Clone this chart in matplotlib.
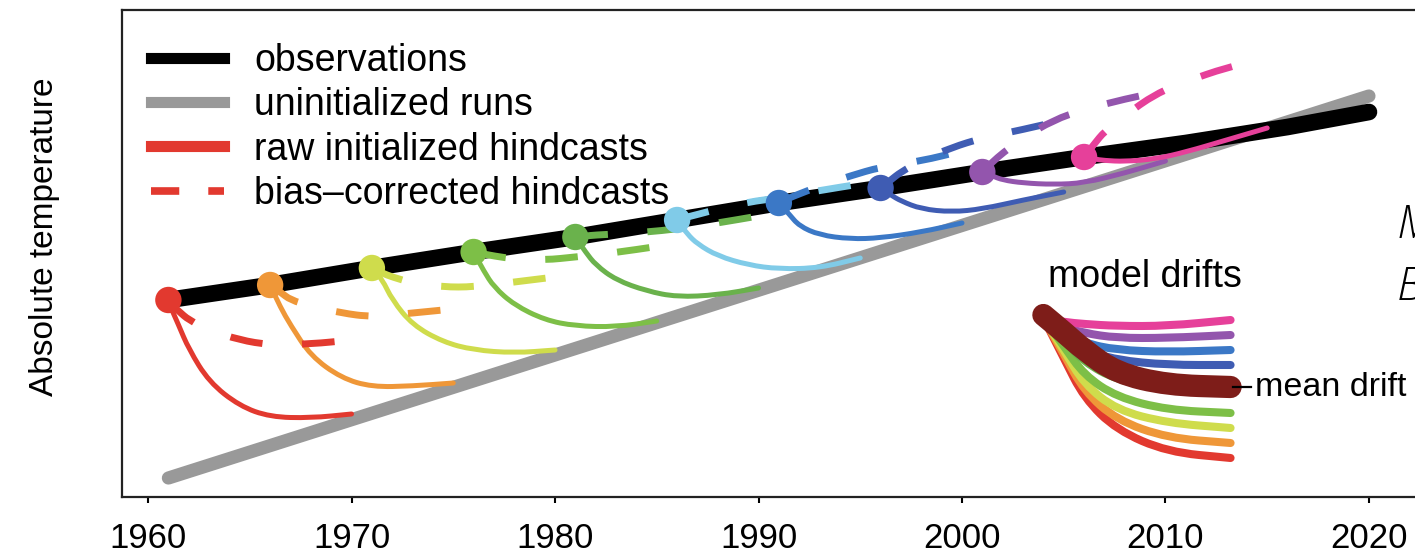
import matplotlib
matplotlib.use('Agg')
import matplotlib.pyplot as plt
from matplotlib.lines import Line2D
from matplotlib.path import Path
from matplotlib.patches import PathPatch
import numpy as np

plt.rcParams['font.family'] = ['Liberation Sans', 'DejaVu Sans']

# observed and uninitialized climate (arbitrary temperature units)
obs_years = [1961, 1966, 1971, 1976, 1981, 1986, 1991, 1996, 2001, 2006, 2011, 2016, 2020]
obs_vals = [19.7, 21.2, 22.9, 24.5, 26.0, 27.7, 29.4, 30.9, 32.5, 34.0, 35.4, 37.0, 38.5]
uninit_years = [1961, 2020]
uninit_vals = [1.9, 40.1]

# hindcasts: start years, lead times (years) and values at each lead
start_years = [1961, 1966, 1971, 1976, 1981, 1986, 1991, 1996, 2001, 2006]
leads = [0, 0.5, 1, 2, 3.5, 5, 7, 9]
raw_hindcasts = [
    [19.5, 17.2, 14.8, 11.5, 9.1, 8.0, 7.9, 8.3],
    [21.2, 19.0, 17.2, 14.1, 11.9, 11.0, 11.1, 11.4],
    [22.9, 21.8, 19.7, 17.2, 15.5, 14.7, 14.4, 14.7],
    [24.5, 22.6, 21.0, 19.2, 17.7, 17.1, 17.0, 17.6],
    [26.0, 24.5, 23.2, 21.7, 20.6, 20.0, 20.2, 20.9],
    [27.7, 26.3, 25.3, 24.1, 23.2, 22.8, 22.9, 23.9],
    [29.4, 28.3, 27.1, 26.2, 25.8, 25.9, 26.5, 27.4],
    [30.9, 30.2, 29.6, 28.8, 28.5, 28.8, 29.7, 30.5],
    [32.5, 32.1, 31.7, 31.4, 31.25, 31.4, 32.4, 33.6],
    [34.0, 33.8, 33.65, 33.55, 33.8, 34.5, 35.7, 36.9],
]
corrected_hindcasts = [
    [19.5, 18.6, 17.7, 16.7, 15.7, 15.2, 15.3, 15.7],
    [21.2, 20.5, 19.7, 19.1, 18.4, 18.0, 18.4, 18.8],
    [22.9, 22.4, 22.0, 21.4, 21.0, 21.0, 21.5, 22.0],
    [24.5, 24.3, 24.1, 23.8, 23.7, 24.0, 24.45, 25.05],
    [26.0, 26.1, 26.2, 26.3, 26.5, 26.8, 27.4, 28.1],
    [27.7, 28.0, 28.25, 28.8, 29.5, 29.9, 30.65, 31.3],
    [29.4, 29.9, 30.3, 31.1, 32.1, 33.0, 33.6, 34.6],
    [30.9, 31.7, 32.5, 33.65, 34.95, 35.9, 36.75, 37.7],
    [32.5, 33.5, 34.4, 35.9, 37.7, 38.75, 39.8, 40.65],
    [34.0, 35.3, 36.55, 38.15, 40.3, 41.55, 42.95, 43.9],
]
colors = ['#e2392f', '#ef9738', '#cfdc4c', '#7dbf47', '#6ab24c',
          '#80cbe8', '#3b78c6', '#3f5cb3', '#9355ad', '#e6409a']

# model drift inset (placed in data space of the main axes)
drift_years = [2004.0, 2005.0, 2006.0, 2007.6, 2010.1, 2013.2]
drift_curves = [
    [17.9, 13.9, 9.9, 6.7, 4.5, 3.9],
    [17.9, 14.3, 10.6, 7.7, 5.9, 5.4],
    [17.9, 14.7, 11.3, 8.7, 7.4, 6.9],
    [17.9, 15.1, 12.2, 10.0, 8.7, 8.4],
    [17.9, 15.7, 13.5, 11.7, 10.7, 10.5],
    [17.9, 16.1, 14.1, 12.5, 11.7, 11.6],
    [17.9, 16.7, 15.4, 14.7, 14.5, 14.7],
    [17.9, 16.4, 14.7, 13.7, 13.2, 13.2],
    [17.9, 17.0, 16.4, 15.9, 15.9, 16.2],
    [17.9, 17.5, 17.3, 17.1, 17.1, 17.7],
]
mean_drift = [18.2, 16.5, 14.7, 12.4, 11.2, 11.0]

xticks = [1960, 1970, 1980, 1990, 2000, 2010, 2020]


def rounded_path(xs, ys):
    # polyline with its corners rounded off by quadratic bezier segments
    pts = np.column_stack([xs, ys]).astype(float)
    verts = [pts[0], (pts[0] + pts[1]) / 2]
    codes = [Path.MOVETO, Path.LINETO]
    for i in range(1, len(pts) - 1):
        verts += [pts[i], (pts[i] + pts[i + 1]) / 2]
        codes += [Path.CURVE3, Path.CURVE3]
    verts.append(pts[-1])
    codes.append(Path.LINETO)
    return Path(verts, codes)


def draw_curve(ax, xs, ys, **kw):
    patch = PathPatch(rounded_path(xs, ys), fill=False, joinstyle='round', **kw)
    ax.add_patch(patch)


fig = plt.figure(figsize=(14.15, 5.54), dpi=100)
ax = fig.add_axes([122 / 1415, 57 / 554, 1308 / 1415, 487 / 554])
ax.set_xlim(1958.72, 2023.0)
ax.set_ylim(0, 48.7)

ax.plot(uninit_years, uninit_vals, color='#999999', lw=9.5, solid_capstyle='round', zorder=1)
ax.plot(obs_years, obs_vals, color='black', lw=12, solid_capstyle='round', zorder=2)

for s, raw, cor, c in zip(start_years, raw_hindcasts, corrected_hindcasts, colors):
    yrs = [s + l for l in leads]
    draw_curve(ax, yrs, raw, edgecolor=c, lw=3.6, capstyle='round', zorder=3)
    draw_curve(ax, yrs, cor, edgecolor=c, lw=5, linestyle=(0, (4.7, 5.7)),
               capstyle='butt', zorder=4)

obs_at_start = [obs_vals[obs_years.index(s)] for s in start_years]
ax.scatter(start_years, obs_at_start, s=19 ** 2, c=colors, zorder=5, linewidths=0)

# drift inset
for vals, c in zip(drift_curves, colors):
    draw_curve(ax, drift_years, vals, edgecolor=c, lw=5.8, capstyle='round', zorder=6)
draw_curve(ax, drift_years, mean_drift, edgecolor='#7e1d19', lw=16, capstyle='round', zorder=7)
ax.plot([2013.3, 2014.2], [mean_drift[-1], mean_drift[-1]], color='black', lw=1.6, zorder=7)
ax.text(2014.4, mean_drift[-1], 'mean drift', fontsize=24.5, va='center', ha='left')
ax.text(2009.0, 22.0, 'model drifts', fontsize=27, va='center', ha='center')

handles = [
    Line2D([], [], color='black', lw=8),
    Line2D([], [], color='#999999', lw=8),
    Line2D([], [], color='#e2392f', lw=8),
    Line2D([], [], color='#e2392f', lw=5.5, linestyle=(0, (3.7, 3.8))),
]
labels = ['observations', 'uninitialized runs', 'raw initialized hindcasts',
          'bias\u2013corrected hindcasts']
ax.legend(handles, labels, loc='upper left', bbox_to_anchor=(0.022, 0.932),
          frameon=False, fontsize=27, handlelength=1.95, handletextpad=0.8,
          labelspacing=0.22, borderpad=0, borderaxespad=0)

ax.set_xticks(xticks)
ax.set_xticklabels([str(t) for t in xticks])
ax.set_yticks([])
ax.tick_params(axis='x', direction='out', length=4, width=1.5, labelsize=25, pad=14)
for sp in ax.spines.values():
    sp.set_linewidth(1.6)
    sp.set_color('#222222')

fig.text(45 / 1415, 1 - 237 / 554, 'Absolute temperature', rotation=90,
         fontsize=24, va='center', ha='center')

# slide text running in from the right edge
fig.text(1397 / 1415, 1 - 238 / 554, 'M', fontsize=33, family='Open Sans',
         style='italic', weight='light', va='baseline', ha='left')
fig.text(1397 / 1415, 1 - 300 / 554, 'B', fontsize=33, family='Open Sans',
         style='italic', weight='light', va='baseline', ha='left')

fig.savefig('out.png', dpi=100)
